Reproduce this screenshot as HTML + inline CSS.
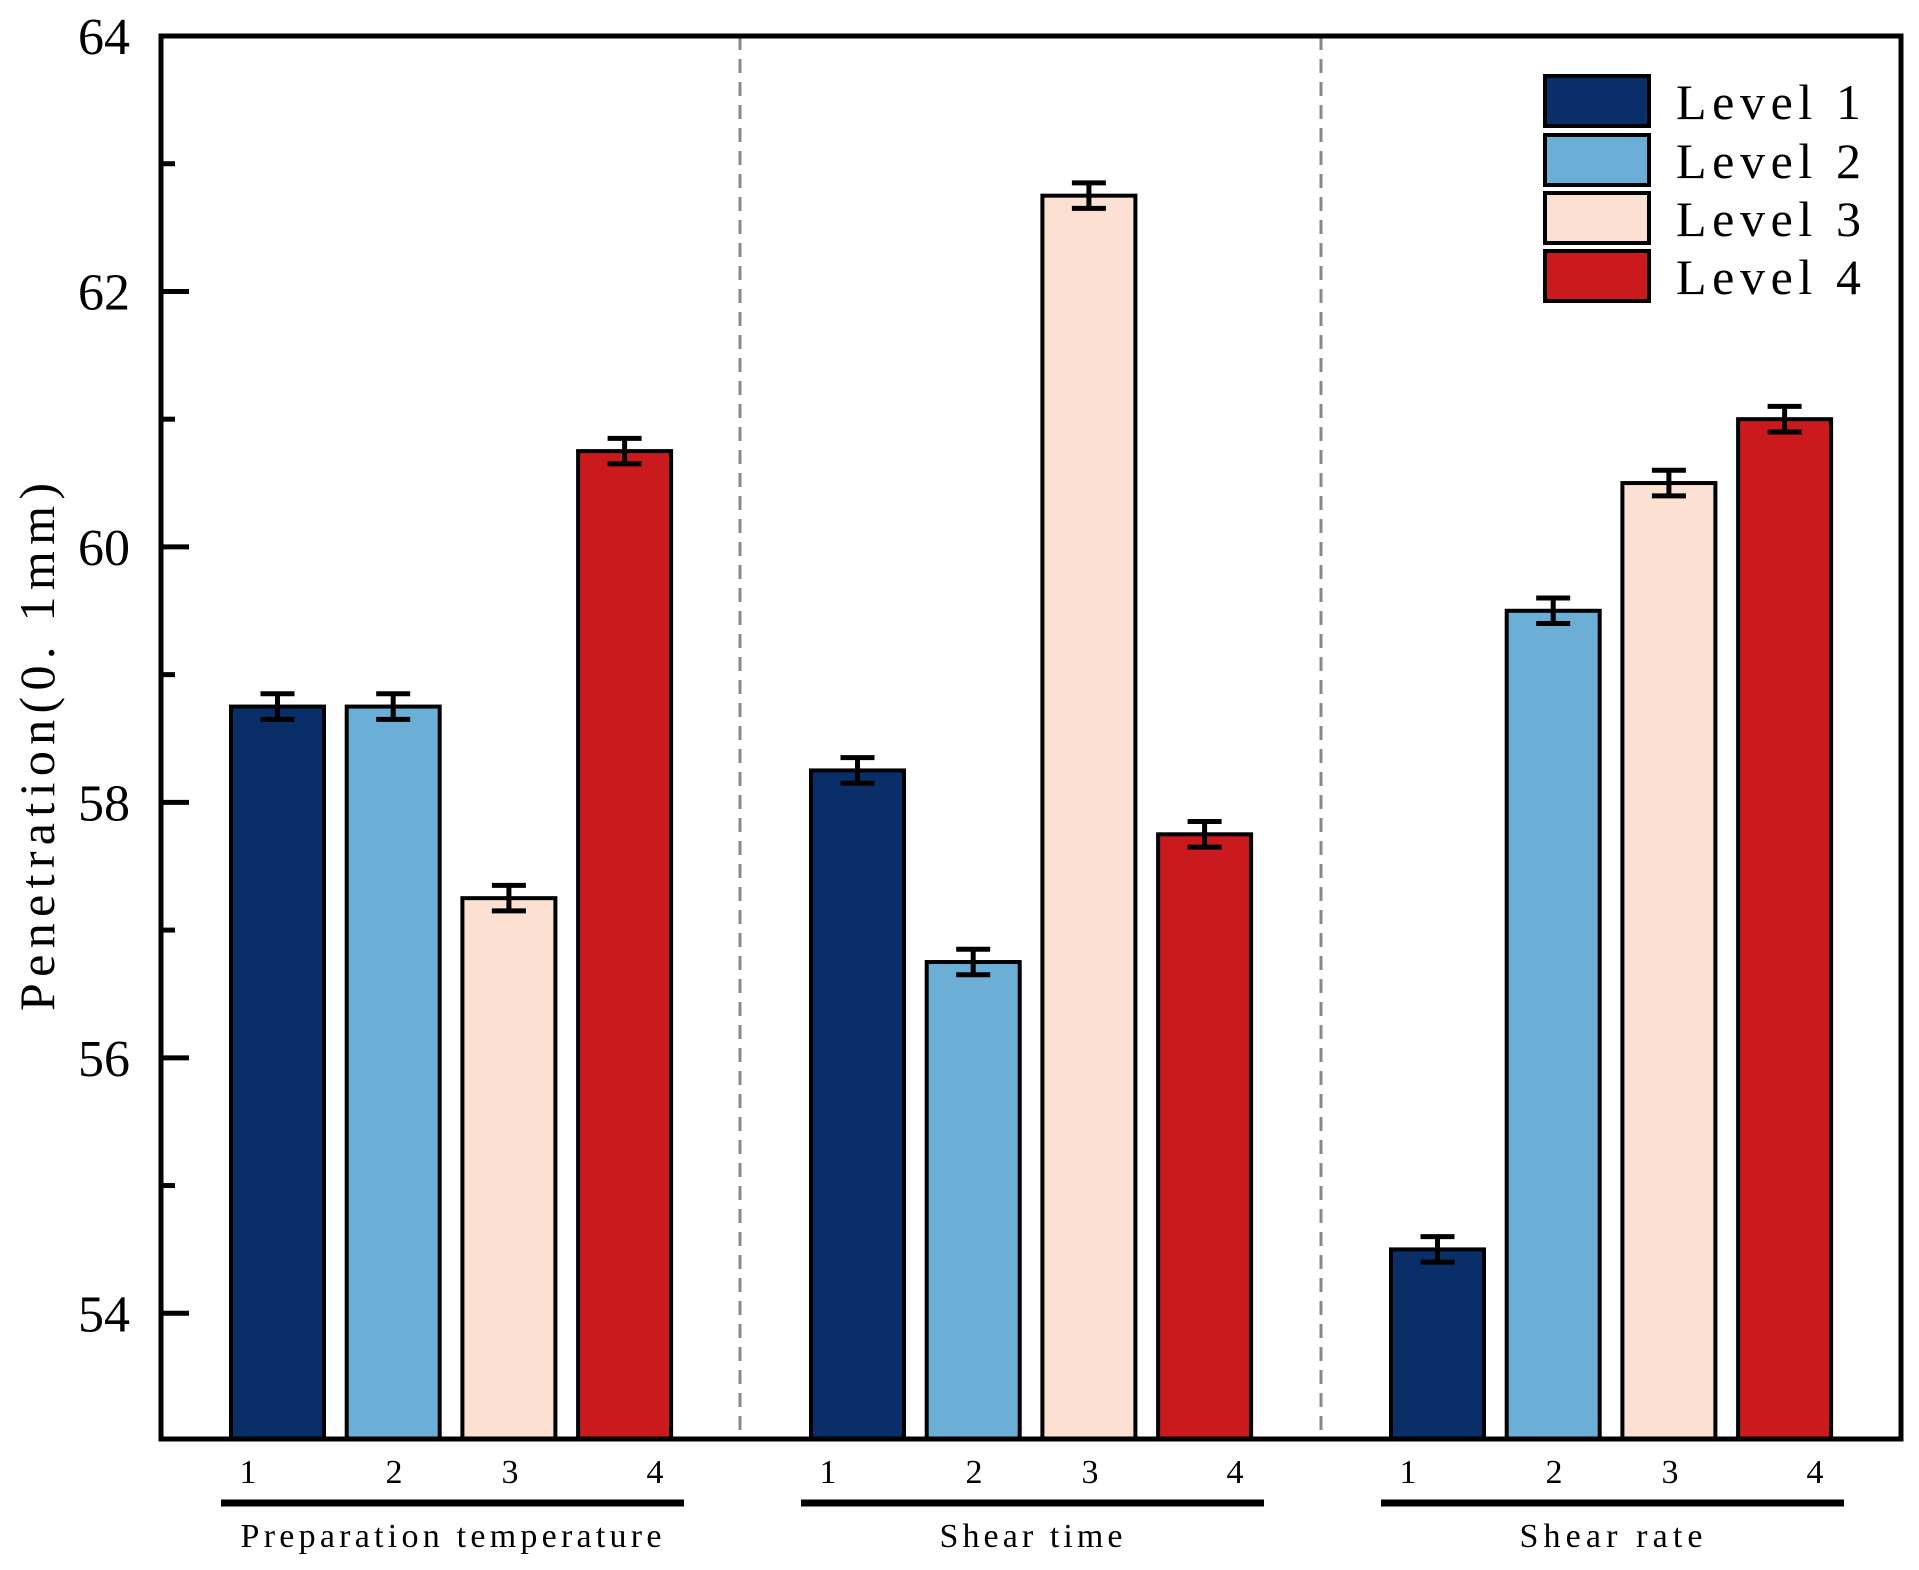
<!DOCTYPE html>
<html><head><meta charset="utf-8"><style>html,body{margin:0;padding:0;background:#fff}</style></head>
<body>
<svg id="chart" width="1919" height="1565" viewBox="0 0 1919 1565" xmlns="http://www.w3.org/2000/svg" font-family="'Liberation Serif', serif"></svg>
<script>
const groups = ["Preparation temperature", "Shear time", "Shear rate"];
const levels = ["Level 1", "Level 2", "Level 3", "Level 4"];
const values = [
  [58.75, 58.75, 57.25, 60.75],
  [58.25, 56.75, 62.75, 57.75],
  [54.5, 59.5, 60.5, 61.0]
];
const errors = [
  [0.1, 0.1, 0.1, 0.1],
  [0.1, 0.1, 0.1, 0.1],
  [0.1, 0.1, 0.1, 0.1]
];
const yTicks = [54, 56, 58, 60, 62, 64];
const yMinor = [55, 57, 59, 61, 63];

const colors = ["#0a2f68", "#6baed6", "#fce0d2", "#cb1a1e"];
const NS = "http://www.w3.org/2000/svg";
const svg = document.getElementById("chart");
const X0 = 161, X1 = 1901, Y0 = 36, Y1 = 1439;
const yMin = 53, yMax = 64;
function y(v){ return Y0 + (yMax - v) * (1441 - Y0) / (yMax - yMin); }
function gx(g){ return 231 + g * 580; }
function bx(g, i){ return gx(g) + i * 115.7; }
const BW = 93;
function el(tag, attrs, parent){ const e = document.createElementNS(NS, tag); for (const k in attrs) e.setAttribute(k, attrs[k]); (parent||svg).appendChild(e); return e; }

// separators
[740, 1321].forEach((sx, k) => {
  const l = el("line", {x1: sx, x2: sx, y1: Y0, y2: Y1, stroke: "#888", "stroke-width": 3, "stroke-dasharray": "14,9"});
  
  
});

// bars
values.forEach((row, g) => {
  row.forEach((v, i) => {
    const x = bx(g, i), top = y(v);
    const r = el("rect", {x: x, y: top, width: BW, height: Y1 - top, fill: colors[i], stroke: "#000", "stroke-width": 4});
    
    
    const cx = x + BW/2, e = errors[g][i];
    const eb = el("path", {d: `M${cx},${y(v+e)}V${y(v-e)}M${cx-17},${y(v+e)}H${cx+17}M${cx-17},${y(v-e)}H${cx+17}`, stroke: "#000", "stroke-width": 5, fill: "none"});
    
    
  });
});

// axes frame
const frame = el("rect", {x: X0, y: Y0, width: X1 - X0, height: Y1 - Y0, fill: "none", stroke: "#000", "stroke-width": 5});



yTicks.forEach(t => {
  const yy = y(t);
  const tk = el("line", {x1: X0, x2: X0 + 28, y1: yy, y2: yy, stroke: "#000", "stroke-width": 5});
  
  
  const tx = el("text", {x: 130, y: yy + 18, "text-anchor": "end", "font-size": 52});
  tx.textContent = t;
  
  
});
yMinor.forEach(t => {
  const yy = y(t);
  const tk = el("line", {x1: X0, x2: X0 + 14, y1: yy, y2: yy, stroke: "#000", "stroke-width": 5});
  
  
});

// y title
const yt = el("text", {x: 0, y: 0, transform: "translate(54,747) rotate(-90)", "text-anchor": "middle", "font-size": 50, textLength: 528, lengthAdjust: "spacing"});
yt.textContent = "Penetration(0. 1mm)";



// x labels
const numOff = [17, 163, 279, 424];
groups.forEach((name, g) => {
  numOff.forEach((o, i) => {
    const t = el("text", {x: gx(g) + o, y: 1483, "text-anchor": "middle", "font-size": 34});
    t.textContent = String(i + 1);
    
    
  });
  const ln = el("line", {x1: gx(g) - 10, x2: gx(g) + 453, y1: 1503, y2: 1503, stroke: "#000", "stroke-width": 7});
  
  
  const gt = el("text", {x: gx(g) + 220, y: 1547, "text-anchor": "middle", "font-size": 34, textLength: name.length * 18.3, lengthAdjust: "spacing"});
  gt.textContent = name;
  
  
});

// legend
const legTops = [76, 135, 193, 251];
levels.forEach((lv, i) => {
  const g = el("g", {});
  
  
  el("rect", {x: 1545, y: legTops[i], width: 104, height: 50, fill: colors[i], stroke: "#000", "stroke-width": 4}, g);
  const t = el("text", {x: 1676, y: legTops[i] + 43, "font-size": 50, textLength: 185, lengthAdjust: "spacing"}, g);
  t.textContent = lv;
});
</script>
</body></html>
